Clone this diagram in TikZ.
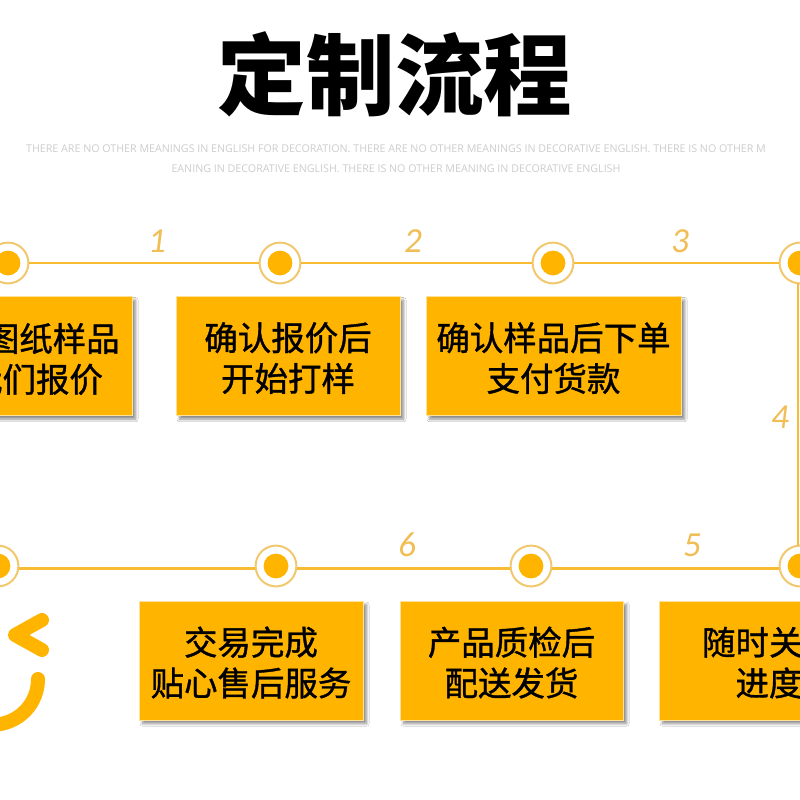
\documentclass[tikz,border=0pt]{standalone}
\usepackage{xcolor}
\usepackage{fontspec}
\usetikzlibrary{shadows.blur}
\newfontfamily\cjkfont{Noto Sans CJK SC}
\newfontfamily\boxfont{Noto Sans CJK SC}[FakeBold=1.1]
\newfontfamily\digitfont{Carlito}
\setmainfont{Open Sans}
\definecolor{boxcolor}{RGB}{255,180,0}
\definecolor{linecolor}{RGB}{247,188,51}
\definecolor{ringcolor}{RGB}{242,200,110}
\definecolor{numcolor}{RGB}{240,190,85}
\definecolor{subcolor}{RGB}{205,205,205}
\newcommand{\toplift}{\rule{0pt}{8.1mm}}

\begin{document}
\begin{tikzpicture}[
    x=0.25mm, y=-0.25mm,
    stepbox/.style={fill=boxcolor, draw=boxcolor!40, line width=0.2mm, minimum height=29.8mm, align=center,
        font=\boxfont\fontsize{23.8}{29}\selectfont,
        blur shadow={shadow xshift=0.9mm, shadow yshift=-0.9mm, shadow blur steps=14, shadow blur radius=0.6mm, shadow opacity=45}},
    ringdot/.style={circle, draw=ringcolor, line width=0.5mm, fill=white, minimum size=10.2mm, inner sep=0pt,
        path picture={\fill[boxcolor] (path picture bounding box.center) circle (3.1mm);}},
    flowline/.style={draw=linecolor, line width=0.7mm},
    numlabel/.style={font=\digitfont\itshape\fontsize{25}{25}\selectfont, text=numcolor},
    smile/.style={draw=boxcolor, line width=3.5mm, line cap=round, line join=round}
]
    \path[use as bounding box, clip] (0,0) rectangle (800,800);
    \fill[white] (0,0) rectangle (800,800);

    % Title
    \node[font=\cjkfont\bfseries\fontsize{63}{63}\selectfont] (title) at (395,74) {定制流程};
    \node[font=\fontsize{7.6}{14.2}\selectfont, text=subcolor, align=center] (subtitle) at (396,159) {THERE ARE NO OTHER MEANINGS IN ENGLISH FOR DECORATION. THERE ARE NO OTHER MEANINGS IN DECORATIVE ENGLISH. THERE IS NO OTHER M\\EANING IN DECORATIVE ENGLISH. THERE IS NO OTHER MEANING IN DECORATIVE ENGLISH};

    % Top row
    \node[ringdot] (dot1) at (8,263) {};
    \node[ringdot] (dot2) at (280,263) {};
    \node[ringdot] (dot3) at (553,263) {};
    \node[ringdot] (dot4) at (800,263) {};

    \node[stepbox, minimum width=56mm] (box1) at (20,356) {};
    \node[font=\boxfont\fontsize{23.8}{29}\selectfont, align=right, anchor=east, inner sep=0pt] (text1) at (120,359) {图纸样品\\我们报价\rule{4.2mm}{0pt}};
    \node[stepbox, minimum width=56mm] (box2) at (288,356) {\toplift 确认报价后\\开始打样};
    \node[stepbox, minimum width=63.8mm] (box3) at (553.5,356) {\toplift 确认样品后下单\\支付货款};

    % Bottom row
    \node[ringdot] (dot5) at (800,566) {};
    \node[ringdot] (dot6) at (531,566) {};
    \node[ringdot] (dot7) at (276,566) {};
    \node[ringdot] (dot8) at (-2,566) {};

    \node[stepbox, minimum width=56mm] (box4) at (251,660.5) {\toplift 交易完成\\贴心售后服务};
    \node[stepbox, minimum width=55.8mm] (box5) at (511.5,660.5) {\toplift 产品质检后\\配送发货};
    \node[stepbox, minimum width=55mm] (box6) at (769,660.5) {\toplift 随时关注\\进度};

    % Connectors
    \draw[flowline] (dot1) -- (dot2);
    \draw[flowline] (dot2) -- (dot3);
    \draw[flowline] (dot3) -- (dot4);
    \draw[flowline] ([xshift=-0.5mm]dot4.south) -- ([xshift=-0.5mm]dot5.north);
    \draw[flowline] ([yshift=-0.7mm]dot5.west) -- ([yshift=-0.7mm]dot6.east);
    \draw[flowline] ([yshift=-0.7mm]dot6.west) -- ([yshift=-0.7mm]dot7.east);
    \draw[flowline] ([yshift=-0.7mm]dot7.west) -- ([yshift=-0.7mm]dot8.east);

    % Numbers
    \node[numlabel] (num1) at (157,241) {1};
    \node[numlabel] (num2) at (413,241) {2};
    \node[numlabel] (num3) at (680,241) {3};
    \node[numlabel] (num4) at (780,417) {4};
    \node[numlabel] (num5) at (692,545) {5};
    \node[numlabel] (num6) at (407,545) {6};

    % Smile
    \draw[smile] (42,620) -- (15,635) -- (42,650);
    \draw[smile] (38,679) .. controls (38,703) and (20,724) .. (-8,725);
\end{tikzpicture}
\end{document}
